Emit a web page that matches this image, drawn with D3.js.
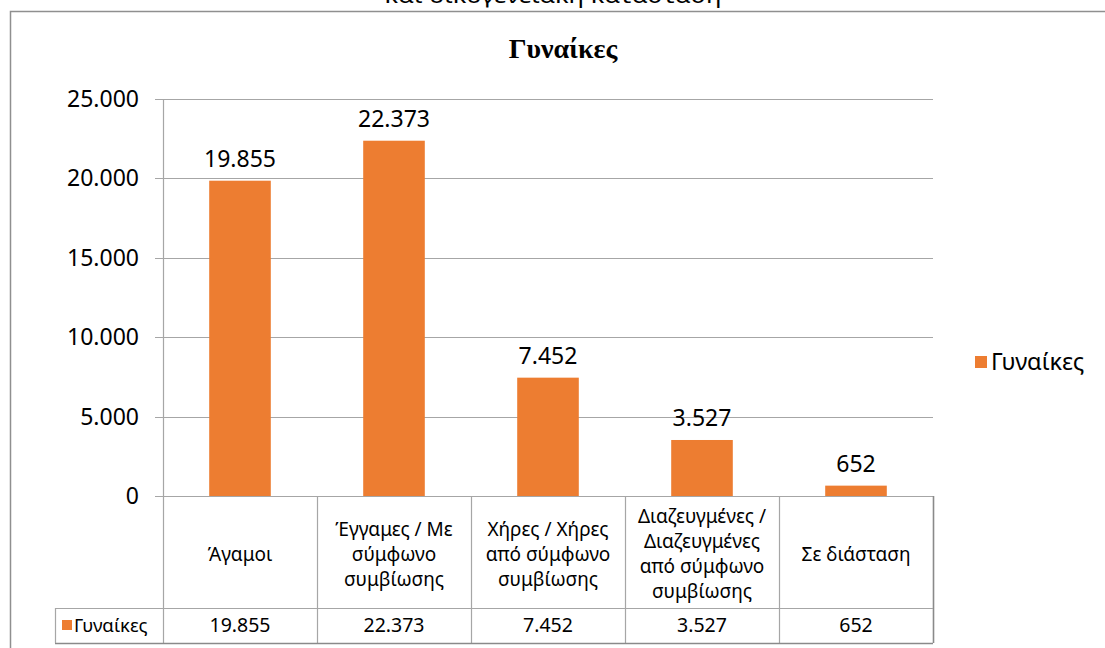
<!DOCTYPE html>
<html><head><meta charset="utf-8">
<script src="https://cdn.jsdelivr.net/npm/d3@7"></script>
<style>html,body{margin:0;padding:0;background:#fff;overflow:hidden}</style>
</head><body>
<svg id="c" width="1105" height="648"></svg>
<script>
const categories = [
  ["Άγαμοι"],
  ["Έγγαμες / Με", "σύμφωνο", "συμβίωσης"],
  ["Χήρες / Χήρες", "από σύμφωνο", "συμβίωσης"],
  ["Διαζευγμένες /", "Διαζευγμένες", "από σύμφωνο", "συμβίωσης"],
  ["Σε διάσταση"]
];
const values = [19855, 22373, 7452, 3527, 652];
const seriesName = "Γυναίκες";
const yTicks = [0, 5000, 10000, 15000, 20000, 25000];
const chartTitle = "Γυναίκες";
const topText = "και οικογενειακή κατάσταση";

const svg = d3.select("#c");
const font = "'Noto Sans', 'Open Sans', sans-serif";
const orange = "#ED7D31";
const grid = "#a6a6a6";
const fmt = v => d3.format(",")(v).replace(/,/g, ".");

const L = 163, R = 933, T = 99, B = 496;
const rowSep = 608, tableBottom = 643, keyLeft = 55;

const x = d3.scaleBand().domain(d3.range(categories.length)).range([L, R]).padding(0);
const y = d3.scaleLinear().domain([0, 25000]).range([B, T]);

// clipped text at top (cut off by the page edge, as in the reference)
svg.append("text").attr("x", 553).attr("y", 3).attr("text-anchor", "middle")
  .attr("font-family", font).attr("font-size", 21).attr("fill", "#000")
  .attr("textLength", 337).attr("lengthAdjust", "spacingAndGlyphs").text(topText);

// outer border
svg.append("path").attr("d", `M10.5,648 V11.5 H1105`).attr("fill", "none")
  .attr("stroke", "#8f8f8f").attr("stroke-width", 1.5);

// title
svg.append("text").attr("x", 563).attr("y", 58).attr("text-anchor", "middle")
  .attr("font-family", "'Liberation Serif', 'Times New Roman', serif").attr("font-weight", "bold")
  .attr("font-size", 28).attr("fill", "#000").text(chartTitle);

// gridlines + ticks
svg.append("g").selectAll("line").data(yTicks).join("line")
  .attr("x1", 155).attr("x2", R).attr("y1", d => Math.round(y(d)) + 0.5).attr("y2", d => Math.round(y(d)) + 0.5)
  .attr("stroke", grid).attr("stroke-width", 1);
svg.append("g").selectAll("text").data(yTicks).join("text")
  .attr("x", 139).attr("y", d => y(d)).attr("dy", "0.35em").attr("text-anchor", "end")
  .attr("font-family", font).attr("font-size", 23).attr("fill", "#000").text(fmt);

// bars
const bw = x.bandwidth() * 0.4;
svg.append("g").selectAll("rect").data(values).join("rect")
  .attr("x", (d, i) => x(i) + (x.bandwidth() - bw) / 2).attr("width", bw)
  .attr("y", d => y(d)).attr("height", d => B - y(d)).attr("fill", orange);

// data labels
svg.append("g").selectAll("text").data(values).join("text")
  .attr("x", (d, i) => x(i) + x.bandwidth() / 2).attr("y", d => y(d) - 14)
  .attr("text-anchor", "middle").attr("font-family", font).attr("font-size", 23)
  .attr("fill", "#000").text(fmt);

// table lines
const tl = svg.append("g").attr("stroke", grid).attr("stroke-width", 1.2).attr("fill", "none");
const bounds = x.domain().map(i => x(i)).concat([R]);
bounds.forEach((bx, k) => {
  tl.append("line").attr("x1", Math.round(bx) + 0.5).attr("x2", Math.round(bx) + 0.5)
    .attr("y1", k === 0 ? T : B).attr("y2", tableBottom)
    .attr("stroke", k === bounds.length - 1 ? "#8a8a8a" : grid)
    .attr("stroke-width", k === bounds.length - 1 ? 1.6 : 1.2);
});
tl.append("line").attr("x1", keyLeft).attr("x2", R).attr("y1", rowSep + 0.5).attr("y2", rowSep + 0.5);
tl.append("line").attr("x1", keyLeft).attr("x2", R).attr("y1", tableBottom + 0.5).attr("y2", tableBottom + 0.5)
  .attr("stroke", "#8a8a8a").attr("stroke-width", 1.6);
tl.append("line").attr("x1", keyLeft + 0.5).attr("x2", keyLeft + 0.5).attr("y1", rowSep).attr("y2", tableBottom);

// category labels
const lh = 25, cy = 554;
const cat = svg.append("g");
categories.forEach((lines, i) => {
  const t = cat.append("text").attr("text-anchor", "middle").attr("font-family", font)
    .attr("font-size", 19).attr("fill", "#000");
  lines.forEach((ln, j) => {
    t.append("tspan").attr("x", x(i) + x.bandwidth() / 2)
      .attr("y", cy + (j - (lines.length - 1) / 2) * lh).attr("dy", "0.35em").text(ln);
  });
});

// table values
svg.append("g").selectAll("text").data(values).join("text")
  .attr("x", (d, i) => x(i) + x.bandwidth() / 2).attr("y", (rowSep + tableBottom) / 2).attr("dy", "0.35em")
  .attr("text-anchor", "middle").attr("font-family", font).attr("font-size", 19.5)
  .attr("fill", "#000").text(fmt);

// legend key in table
svg.append("rect").attr("x", 62).attr("y", 620).attr("width", 10).attr("height", 10).attr("fill", orange);
svg.append("text").attr("x", 74).attr("y", (rowSep + tableBottom) / 2).attr("dy", "0.35em")
  .attr("font-family", font).attr("font-size", 18.5).attr("fill", "#000").text(seriesName);

// right legend
svg.append("rect").attr("x", 975).attr("y", 356).attr("width", 12).attr("height", 12).attr("fill", orange);
svg.append("text").attr("x", 991).attr("y", 362).attr("dy", "0.35em")
  .attr("font-family", font).attr("font-size", 23.5).attr("fill", "#000").text(seriesName);
</script>
</body></html>
